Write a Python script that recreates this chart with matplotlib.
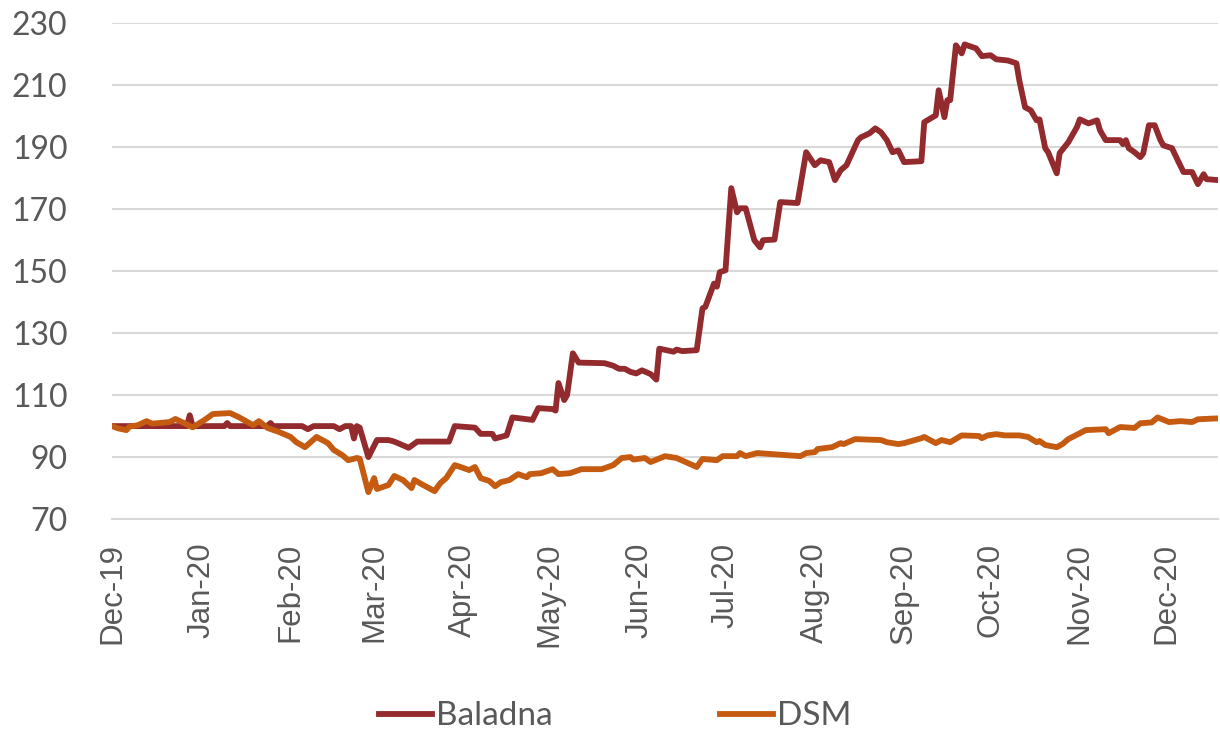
import matplotlib
matplotlib.use("Agg")
import matplotlib.pyplot as plt
import matplotlib.dates as mdates
import pandas as pd

# values (index, Dec-19 = 100)
baladna_dates = [
    "2019-12-01", "2019-12-27", "2019-12-28", "2019-12-29", "2020-01-09", "2020-01-10",
    "2020-01-11", "2020-01-24", "2020-01-25", "2020-01-26", "2020-02-05", "2020-02-07",
    "2020-02-09", "2020-02-16", "2020-02-18", "2020-02-20", "2020-02-22", "2020-02-23",
    "2020-02-24", "2020-02-25", "2020-02-28", "2020-03-02", "2020-03-06", "2020-03-08",
    "2020-03-13", "2020-03-16", "2020-03-27", "2020-03-29", "2020-04-05", "2020-04-07",
    "2020-04-11", "2020-04-12", "2020-04-14", "2020-04-16", "2020-04-18", "2020-04-25",
    "2020-04-27", "2020-05-02", "2020-05-03", "2020-05-04", "2020-05-06", "2020-05-07",
    "2020-05-09", "2020-05-11", "2020-05-20", "2020-05-23", "2020-05-25", "2020-05-27",
    "2020-05-29", "2020-05-31", "2020-06-02", "2020-06-05", "2020-06-07", "2020-06-08",
    "2020-06-13", "2020-06-14", "2020-06-16", "2020-06-21", "2020-06-23", "2020-06-24",
    "2020-06-27", "2020-06-28", "2020-06-29", "2020-07-01", "2020-07-03", "2020-07-05",
    "2020-07-06", "2020-07-08", "2020-07-11", "2020-07-13", "2020-07-14", "2020-07-18",
    "2020-07-20", "2020-07-26", "2020-07-29", "2020-08-01", "2020-08-03", "2020-08-06",
    "2020-08-08", "2020-08-10", "2020-08-12", "2020-08-16", "2020-08-17", "2020-08-20",
    "2020-08-22", "2020-08-24", "2020-08-26", "2020-08-28", "2020-08-30", "2020-09-01",
    "2020-09-07", "2020-09-08", "2020-09-12", "2020-09-13", "2020-09-15", "2020-09-16",
    "2020-09-17", "2020-09-19", "2020-09-21", "2020-09-22", "2020-09-26", "2020-09-28",
    "2020-10-01", "2020-10-03", "2020-10-07", "2020-10-10", "2020-10-11", "2020-10-13",
    "2020-10-15", "2020-10-17", "2020-10-18", "2020-10-20", "2020-10-21", "2020-10-24",
    "2020-10-25", "2020-10-28", "2020-10-31", "2020-11-01", "2020-11-04", "2020-11-07",
    "2020-11-08", "2020-11-10", "2020-11-15", "2020-11-16", "2020-11-17", "2020-11-18",
    "2020-11-20", "2020-11-22", "2020-11-23", "2020-11-25", "2020-11-27", "2020-11-29",
    "2020-11-30", "2020-12-03", "2020-12-05", "2020-12-07", "2020-12-10", "2020-12-12",
    "2020-12-14", "2020-12-15", "2020-12-19",
]
baladna = [
    100, 100, 103.5, 100, 100, 101,
    100, 100, 101, 100, 100, 99,
    100, 100, 99, 100, 100, 96,
    100, 99.5, 90, 95.5, 95.5, 95,
    93, 95, 95, 100, 99.5, 97.5,
    97.5, 96, 96.5, 97, 102.8, 102,
    105.8, 105.5, 105, 113.9, 108.4, 110,
    123.5, 120.5, 120.3, 119.5, 118.5, 118.5,
    117.5, 117, 118, 116.8, 115, 125,
    124, 124.7, 124.2, 124.5, 138, 138.5,
    146, 145, 149.7, 150.3, 176.8, 169,
    170.3, 170.3, 160, 157.7, 160, 160.2,
    172.3, 172, 188.4, 184.2, 185.8, 185.2,
    179.4, 182.6, 184.2, 192.3, 193.2, 194.5,
    196.1, 194.8, 192.3, 188.4, 189, 185.2,
    185.5, 198.1, 200.3, 208.4, 199.7, 205.2,
    205.2, 222.9, 220.3, 223.2, 221.9, 219.4,
    219.7, 218.4, 218, 217.1, 211.6, 202.9,
    201.9, 198.7, 199, 189.7, 188.4, 181.6,
    188.1, 191.6, 196.5, 199, 197.7, 198.7,
    195.5, 192.3, 192.3, 191, 192.3, 189.7,
    188.4, 186.8, 188, 197.1, 197.1, 192.3,
    190.6, 189.7, 185.8, 182, 182, 178.1,
    181.3, 179.7, 179.4,
]

dsm_dates = [
    "2019-12-01", "2019-12-03", "2019-12-06", "2019-12-07", "2019-12-10", "2019-12-13",
    "2019-12-15", "2019-12-21", "2019-12-23", "2019-12-26", "2019-12-29", "2020-01-02",
    "2020-01-05", "2020-01-11", "2020-01-14", "2020-01-19", "2020-01-21", "2020-01-24",
    "2020-01-28", "2020-02-01", "2020-02-03", "2020-02-06", "2020-02-10", "2020-02-14",
    "2020-02-16", "2020-02-19", "2020-02-21", "2020-02-24", "2020-02-25", "2020-02-28",
    "2020-03-01", "2020-03-02", "2020-03-06", "2020-03-08", "2020-03-11", "2020-03-14",
    "2020-03-15", "2020-03-18", "2020-03-22", "2020-03-24", "2020-03-26", "2020-03-29",
    "2020-03-31", "2020-04-03", "2020-04-05", "2020-04-07", "2020-04-10", "2020-04-12",
    "2020-04-14", "2020-04-17", "2020-04-20", "2020-04-23", "2020-04-24", "2020-04-28",
    "2020-05-02", "2020-05-04", "2020-05-08", "2020-05-12", "2020-05-19", "2020-05-23",
    "2020-05-26", "2020-05-29", "2020-05-30", "2020-06-03", "2020-06-05", "2020-06-10",
    "2020-06-14", "2020-06-21", "2020-06-23", "2020-06-28", "2020-06-30", "2020-07-05",
    "2020-07-06", "2020-07-08", "2020-07-12", "2020-07-27", "2020-07-29", "2020-08-01",
    "2020-08-02", "2020-08-07", "2020-08-10", "2020-08-11", "2020-08-15", "2020-08-24",
    "2020-08-26", "2020-08-30", "2020-09-01", "2020-09-07", "2020-09-08", "2020-09-12",
    "2020-09-14", "2020-09-17", "2020-09-21", "2020-09-27", "2020-09-28", "2020-09-30",
    "2020-10-03", "2020-10-06", "2020-10-11", "2020-10-14", "2020-10-17", "2020-10-18",
    "2020-10-20", "2020-10-24", "2020-10-26", "2020-10-28", "2020-11-01", "2020-11-03",
    "2020-11-10", "2020-11-11", "2020-11-15", "2020-11-20", "2020-11-22", "2020-11-26",
    "2020-11-28", "2020-12-02", "2020-12-06", "2020-12-10", "2020-12-12", "2020-12-19",
]
dsm = [
    100, 99.3, 98.7, 99.8, 100.3, 101.6,
    100.8, 101.3, 102.3, 101, 99.6, 101.9,
    103.9, 104.2, 102.9, 100.3, 101.6, 99.4,
    98.1, 96.5, 94.8, 93.2, 96.5, 94.5,
    92.3, 90.6, 89, 89.7, 89.5, 78.7,
    83.2, 79.7, 81, 83.9, 82.6, 80,
    82.6, 81, 79, 81.6, 83.2, 87.4,
    86.8, 85.8, 86.8, 83.2, 82.3, 80.6,
    81.9, 82.6, 84.5, 83.5, 84.5, 84.8,
    86.1, 84.5, 84.8, 86.1, 86.1, 87.4,
    89.7, 90, 89.2, 89.7, 88.4, 90.3,
    89.7, 86.8, 89.4, 89, 90.3, 90.3,
    91.3, 90.3, 91.3, 90.3, 91.3, 91.6,
    92.6, 93.2, 94.5, 94.2, 95.8, 95.5,
    94.8, 94.2, 94.5, 96.1, 96.5, 94.5,
    95.5, 94.8, 97, 96.8, 96.1, 97,
    97.4, 97, 97, 96.5, 94.8, 95.2,
    93.9, 93.2, 94.2, 95.8, 97.7, 98.7,
    99, 97.7, 99.7, 99.4, 100.9, 101.2,
    102.8, 101.3, 101.6, 101.3, 102.2, 102.5,
]

y_ticks = [70, 90, 110, 130, 150, 170, 190, 210, 230]

bal_x = pd.to_datetime(baladna_dates)
dsm_x = pd.to_datetime(dsm_dates)

fig = plt.figure(figsize=(12.2, 7.29), dpi=100)
ax = fig.add_axes([0.0918, 0.288, 0.9066, 0.68])

ax.plot(bal_x, baladna, color="#922A2E", lw=4.2, label="Baladna", solid_joinstyle="round", zorder=3)
ax.plot(dsm_x, dsm, color="#C55A11", lw=4.2, label="DSM", solid_joinstyle="round", zorder=3)

ax.set_ylim(70, 230)
ax.set_yticks(y_ticks)
ax.set_xlim(bal_x[0], bal_x[-1])
ax.xaxis.set_major_locator(mdates.MonthLocator())
ax.xaxis.set_major_formatter(mdates.DateFormatter("%b-%y"))

ax.grid(axis="y", color="#D9D9D9", lw=1.5)
ax.set_axisbelow(True)
for s in ["top", "right", "left"]:
    ax.spines[s].set_visible(False)
ax.spines["bottom"].set_color("#D9D9D9")
ax.spines["bottom"].set_linewidth(1.5)
ax.tick_params(length=0, colors="#595959")

for lab in ax.get_yticklabels():
    lab.set_fontfamily("Lato")
    lab.set_fontsize(23)
for lab in ax.get_xticklabels():
    lab.set_rotation(90)
    lab.set_fontfamily("Liberation Sans")
    lab.set_fontsize(22.5)
ax.tick_params(axis="y", pad=32)
ax.tick_params(axis="x", pad=17)

leg = ax.legend(loc="center", bbox_to_anchor=(0.455, -0.398), ncol=2, frameon=False,
                handlelength=1.6, handletextpad=0.12, columnspacing=5.0,
                borderpad=0.2, prop={"family": "Lato", "size": 24})
for t in leg.get_texts():
    t.set_color("#595959")

plt.savefig("out.png", dpi=100, facecolor="white")
